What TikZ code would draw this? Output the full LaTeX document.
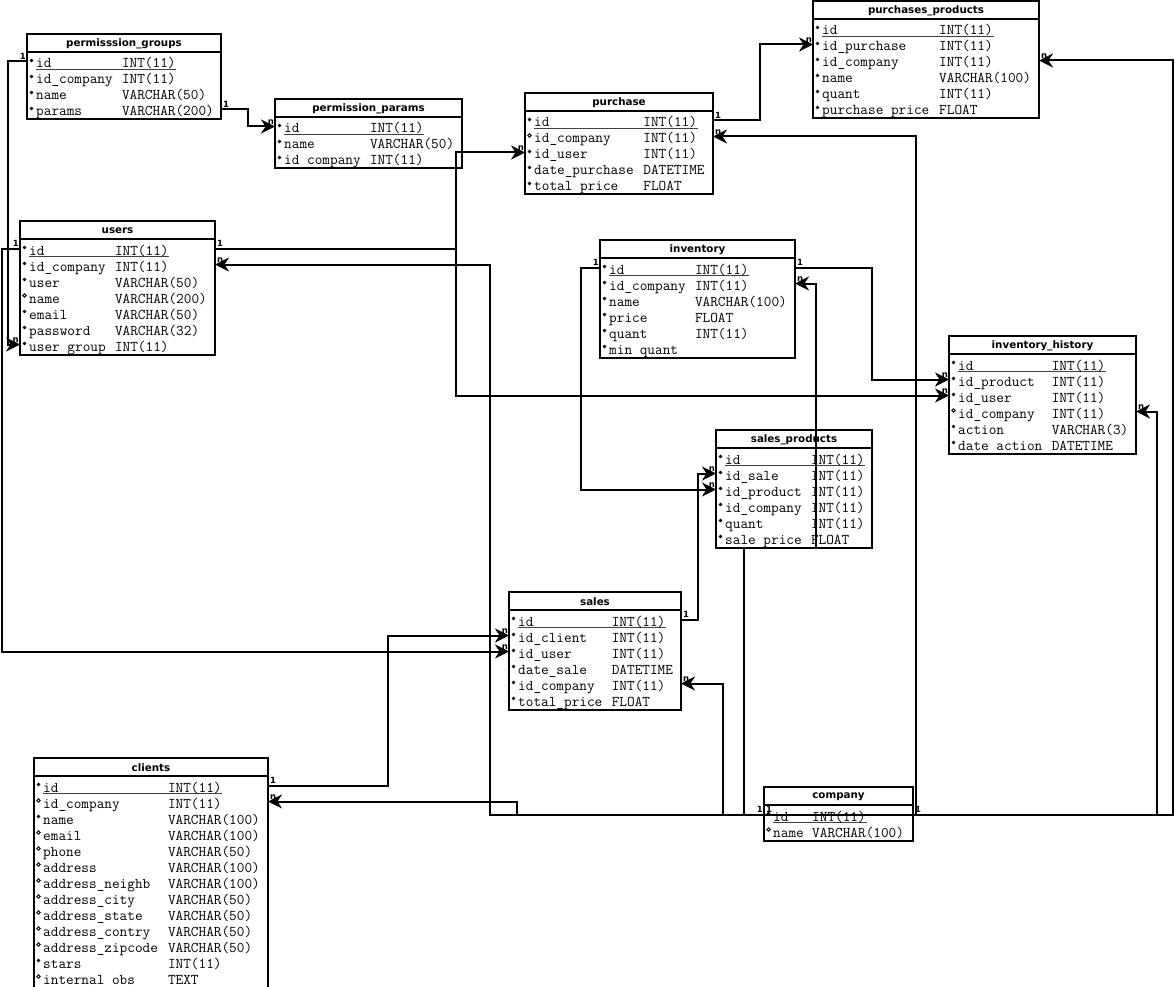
\documentclass[tikz,border=0pt]{standalone}
\usepackage{fontspec}
\usetikzlibrary{arrows.meta}
\newfontfamily\headf{DejaVu Sans}

\tikzset{
  x=1pt, y=-1pt,
  tbl/.style={draw, line width=2pt, fill=white, inner sep=0pt, outer sep=0pt, anchor=north west},
  hdr/.style={font=\headf\bfseries\fontsize{10.3}{11}\selectfont, inner sep=0pt},
  fld/.style={font=\ttfamily\fontsize{14.86}{15}\selectfont, inner sep=0pt, anchor=base west},
  card/.style={font=\headf\bfseries\fontsize{8.5}{8.5}\selectfont, inner sep=0pt},
  cl/.style={card, anchor=south east, xshift=-1pt, yshift=2pt},
  cr/.style={card, anchor=south west, xshift=2pt, yshift=2pt},
  rel/.style={line width=2pt, -{Stealth[length=14pt,width=14pt,inset=4.5pt]}},
  keyline/.style={line width=0.9pt, black!75},
}

% #1 name, #2 title, #3 left, #4 top, #5 right, #6 type column (chars),
% #7 number of rows, #8 rows as marker/field/type (f = not null, o = nullable)
\newcommand{\ertable}[8]{%
  \pgfmathsetmacro{\erh}{21.5+16*#7}
  \node[tbl, minimum width={(#5-#3)*1pt}, minimum height={\erh*1pt}] (#1) at (#3,#4) {};
  \node[hdr] (#1-title) at ({(#3+#5)/2},{#4+9.5}) {#2};
  \draw[line width=2pt] ({#3},{#4+18}) -- ({#5},{#4+18});
  \draw[keyline] ({#3+9},{#4+35}) -- ({#3+9+7.8*(#6+7)},{#4+35});
  \foreach \mk/\fn/\ty [count=\k from 0] in {#8} {
    \pgfmathsetmacro{\yc}{#4+29.5+16*\k}
    \if\mk f\fill ({#3+4.5},{\yc-3}) circle (1.8);\else\draw[line width=0.8pt] ({#3+4.5},{\yc-3}) circle (1.7);\fi
    \node[fld] (#1-\k) at ({#3+9},{\yc+4.5}) {\fn};
    \node[fld] (#1-\k-t) at ({#3+9+7.8*#6},{\yc+4.5}) {\ty};
    \coordinate (#1-\k-w) at ({#3},{\yc-2});
    \coordinate (#1-\k-e) at ({#5},{\yc-2});
  }
}

\begin{document}
\begin{tikzpicture}
\fill[white] (0,0) rectangle (1175,987);
\useasboundingbox (0,0) rectangle (1175,987);

% tables
\ertable{pg}{permisssion\_groups}{27}{34}{221}{11}{4}{f/id/INT(11), f/id\_company/INT(11), f/name/VARCHAR(50), f/params/VARCHAR(200)}
\ertable{pp}{permission\_params}{275}{99}{462}{11}{3}{f/id/INT(11), f/name/VARCHAR(50), f/id company/INT(11)}
\ertable{pur}{purchase}{525}{93}{713}{14}{5}{f/id/INT(11), o/id\_company/INT(11), f/id\_user/INT(11), f/date\_purchase/DATETIME, f/total price/FLOAT}
\ertable{ppr}{purchases\_products}{813}{1}{1039}{15}{6}{f/id/INT(11), f/id\_purchase/INT(11), f/id\_company/INT(11), f/name/VARCHAR(100), f/quant/INT(11), f/purchase price/FLOAT}
\ertable{usr}{users}{20}{221}{215}{11}{7}{f/id/INT(11), f/id\_company/INT(11), f/user/VARCHAR(50), o/name/VARCHAR(200), f/email/VARCHAR(50), f/password/VARCHAR(32), f/user group/INT(11)}
\ertable{inv}{inventory}{600}{240}{795}{11}{6}{f/id/INT(11), f/id\_company/INT(11), f/name/VARCHAR(100), f/price/FLOAT, f/quant/INT(11), f/min quant/{}}
\ertable{ih}{inventory\_history}{949}{336}{1136}{12}{6}{f/id/INT(11), f/id\_product/INT(11), f/id\_user/INT(11), o/id\_company/INT(11), f/action/VARCHAR(3), f/date action/DATETIME}
\ertable{sp}{sales\_products}{716}{430}{872}{11}{6}{f/id/INT(11), f/id\_sale/INT(11), f/id\_product/INT(11), f/id\_company/INT(11), f/quant/INT(11), f/sale price/FLOAT}
\ertable{sal}{sales}{509}{592}{681}{12}{6}{f/id/INT(11), f/id\_client/INT(11), f/id\_user/INT(11), f/date\_sale/DATETIME, f/id\_company/INT(11), f/total\_price/FLOAT}
\ertable{cli}{clients}{34}{758}{268}{16}{13}{f/id/INT(11), o/id\_company/INT(11), f/name/VARCHAR(100), o/email/VARCHAR(100), o/phone/VARCHAR(50), o/address/VARCHAR(100), o/address\_neighb/VARCHAR(100), o/address\_city/VARCHAR(50), o/address\_state/VARCHAR(50), o/address\_contry/VARCHAR(50), o/address\_zipcode/VARCHAR(50), f/stars/INT(11), o/internal obs/TEXT}
\ertable{com}{company}{764}{787}{913}{5}{2}{f/id/INT(11), o/name/VARCHAR(100)}

\coordinate (invbend) at (816,548);

% relations
\draw[rel] (pg-0-w) -- ++(-19,0) |- (usr-6-w);
\draw[rel] (usr-0-w) -- ++(-18,0) |- (sal-2-w);
\draw[rel] (pg-3-e) -- ++(27,0) |- (pp-0-w);
\draw[rel] (usr-0-e) -- ++(241,0) |- (pur-2-w);
\draw[rel] (usr-0-e) -- ++(241,0) |- (ih-2-w);
\draw[rel] (com-0-w) -- ++(-274,0) |- (usr-1-e);
\draw[rel] (com-0-w) -- ++(-247,0) |- (cli-1-e);
\draw[rel] (com-0-w) -- ++(-41,0) |- (sal-4-e);
\draw[rel] (com-0-w) -- ++(-20,0) |- (invbend) |- (inv-1-e);
\draw[rel] (com-0-e) -- ++(3,0) |- (pur-1-e);
\draw[rel] (com-0-e) -- ++(244,0) |- (ih-3-e);
\draw[rel] (com-0-w) -- ++(409,0) |- (ppr-2-e);
\draw[rel] (pur-0-e) -- ++(47,0) |- (ppr-1-w);
\draw[rel] (inv-0-w) -- ++(-19,0) |- (sp-2-w);
\draw[rel] (inv-0-e) -- ++(77,0) |- (ih-1-w);
\draw[rel] (sal-0-e) -- ++(17,0) |- (sp-1-w);
\draw[rel] (cli-0-e) -- ++(120,0) |- (sal-1-w);

% cardinalities
\node[cl] at (pg-0-w) {1};
\node[cl] at (usr-6-w) {n};
\node[cl] at (usr-0-w) {1};
\node[cl] at (sal-2-w) {n};
\node[cr] at (pg-3-e) {1};
\node[cl] at (pp-0-w) {n};
\node[cr] at (usr-0-e) {1};
\node[cl] at (pur-2-w) {n};
\node[cl] at (ih-2-w) {n};
\node[cr] at (usr-1-e) {n};
\node[cl] at (com-0-w) {1};
\node[cr] at (com-0-w) {1};
\node[cr] at (cli-1-e) {n};
\node[cr] at (sal-4-e) {n};
\node[cr] at (inv-1-e) {n};
\node[cr] at (com-0-e) {1};
\node[cr] at (pur-1-e) {n};
\node[cr] at (ih-3-e) {n};
\node[cr] at (ppr-2-e) {n};
\node[cr] at (pur-0-e) {1};
\node[cl] at (ppr-1-w) {n};
\node[cl] at (inv-0-w) {1};
\node[cl] at (sp-2-w) {n};
\node[cr] at (inv-0-e) {1};
\node[cl] at (ih-1-w) {n};
\node[cr] at (sal-0-e) {1};
\node[cl] at (sp-1-w) {n};
\node[cr] at (cli-0-e) {1};
\node[cl] at (sal-1-w) {n};
\end{tikzpicture}
\end{document}
